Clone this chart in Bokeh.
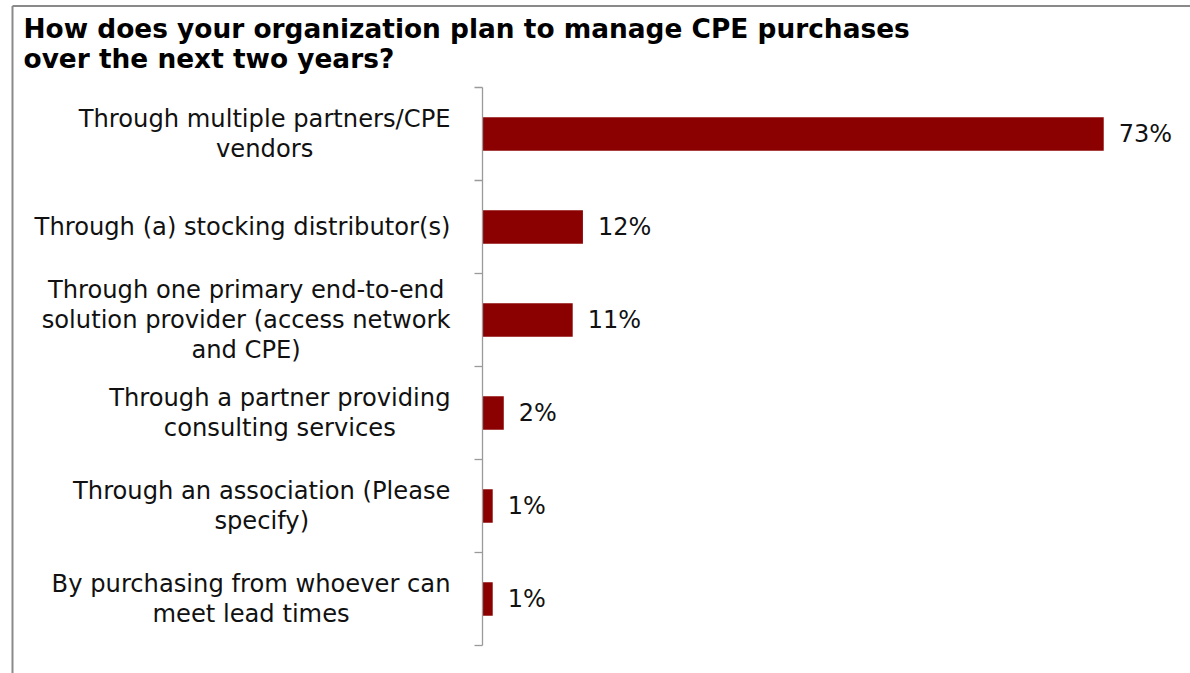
from bokeh.plotting import figure
from bokeh.models import Range1d, ColumnDataSource
from bokeh.core.properties import value
from bokeh.embed import file_html
from bokeh.resources import INLINE

# ---- data ----
title_lines = [
    "How does your organization plan to manage CPE purchases",
    "over the next two years?",
]
categories = [
    "Through multiple partners/CPE\nvendors",
    "Through (a) stocking distributor(s)",
    "Through one primary end-to-end\nsolution provider (access network\nand CPE)",
    "Through a partner providing\nconsulting services",
    "Through an association (Please\nspecify)",
    "By purchasing from whoever can\nmeet lead times",
]
values = [73.0, 11.8, 10.6, 2.5, 1.2, 1.2]
value_labels = ["73%", "12%", "11%", "2%", "1%", "1%"]

# ---- layout (pixels inside the figure) ----
W, H = 1190, 673
AXIS_PX = 482.0       # x pixel of the category axis
PX_PER_UNIT = 8.51    # pixels per percentage point
TOP_PX = 87.0         # top of the first category band
BAND_PX = 93.0        # height of one category band

def xd(px):
    return (px - AXIS_PX) / PX_PER_UNIT

def yd(px):
    return -0.5 + (px - TOP_PX) / BAND_PX

FONT = "DejaVu Sans"
TEXT_COLOR = "#111111"
AXIS_COLOR = "#9a9a9a"
BAR_COLOR = "#8b0000"

p = figure(
    width=W, height=H,
    x_range=Range1d(xd(0), xd(W)),
    y_range=Range1d(yd(H), yd(0)),
    x_axis_location=None, y_axis_location=None,
    toolbar_location=None, output_backend="svg",
    min_border=0, outline_line_color=None,
)
p.xgrid.visible = False
p.ygrid.visible = False
p.background_fill_color = "white"
p.border_fill_color = "white"

n = len(categories)
idx = list(range(n))

# surrounding box (left and top edges)
p.segment(x0=[xd(12)], y0=[yd(5.5)], x1=[xd(12)], y1=[yd(H)],
          line_color="#8a8a8a", line_width=2)
p.segment(x0=[xd(12)], y0=[yd(5.5)], x1=[xd(W)], y1=[yd(5.5)],
          line_color="#8a8a8a", line_width=2)

# title
p.text(x=[xd(23)] * 2, y=[yd(27.5), yd(57.5)], text=title_lines,
       text_font=value(FONT), text_font_style="bold", text_font_size="26.4px",
       text_color="black", text_baseline="middle", text_align="left")

# bars
src = ColumnDataSource(dict(y=idx, v=values, lab=value_labels, cat=categories))
p.hbar(y="y", right="v", left=0, height=0.36, source=src,
       fill_color=BAR_COLOR, line_color=None)

# category axis line and ticks
bounds = [i - 0.5 for i in range(n + 1)]
p.segment(x0=[0], y0=[bounds[0]], x1=[0], y1=[bounds[-1]],
          line_color=AXIS_COLOR, line_width=1.3)
p.segment(x0=[xd(AXIS_PX - 8)] * len(bounds), y0=bounds,
          x1=[0] * len(bounds), y1=bounds,
          line_color=AXIS_COLOR, line_width=1.3)

# category labels: block anchored at its right edge, lines centred
p.text(x=0, y="y", text="cat", source=src, x_offset=-32,
       anchor="center_right",
       text_font=value(FONT), text_font_size="24.2px", text_color=TEXT_COLOR,
       text_align="center", text_baseline="middle", text_line_height=1.06)

# value labels
p.text(x="v", y="y", text="lab", source=src, x_offset=15,
       text_font=value(FONT), text_font_size="24px", text_color=TEXT_COLOR,
       text_align="left", text_baseline="middle")

open("out.html", "w").write(file_html(p, INLINE))
